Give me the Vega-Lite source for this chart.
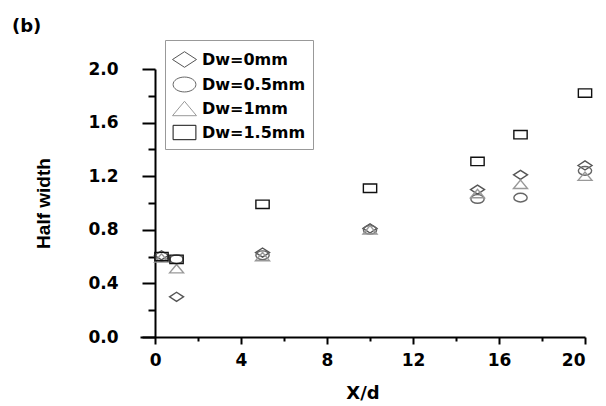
{
  "$schema": "https://vega.github.io/schema/vega-lite/v6.json",
  "width": 445,
  "height": 268,
  "autosize": {"type": "none"},
  "padding": {"left": 140, "top": 69, "right": 21, "bottom": 69},
  "background": "white",
  "title": {"text": "(b)", "anchor": "start", "frame": "group", "dx": -128, "offset": 4, "font": "DejaVu Sans", "fontWeight": "bold", "fontSize": 18, "color": "black"},
  "data": {"values": [
    {"series": "Dw=0mm", "x": 0.3, "y": 0.61},
    {"series": "Dw=0mm", "x": 1, "y": 0.3},
    {"series": "Dw=0mm", "x": 5, "y": 0.63},
    {"series": "Dw=0mm", "x": 10, "y": 0.81},
    {"series": "Dw=0mm", "x": 15, "y": 1.1},
    {"series": "Dw=0mm", "x": 17, "y": 1.21},
    {"series": "Dw=0mm", "x": 20, "y": 1.28},
    {"series": "Dw=0.5mm", "x": 0.3, "y": 0.6},
    {"series": "Dw=0.5mm", "x": 1, "y": 0.58},
    {"series": "Dw=0.5mm", "x": 5, "y": 0.61},
    {"series": "Dw=0.5mm", "x": 10, "y": 0.8},
    {"series": "Dw=0.5mm", "x": 15, "y": 1.03},
    {"series": "Dw=0.5mm", "x": 17, "y": 1.04},
    {"series": "Dw=0.5mm", "x": 20, "y": 1.24},
    {"series": "Dw=1mm", "x": 0.3, "y": 0.59},
    {"series": "Dw=1mm", "x": 1, "y": 0.51},
    {"series": "Dw=1mm", "x": 5, "y": 0.6},
    {"series": "Dw=1mm", "x": 10, "y": 0.8},
    {"series": "Dw=1mm", "x": 15, "y": 1.07},
    {"series": "Dw=1mm", "x": 17, "y": 1.14},
    {"series": "Dw=1mm", "x": 20, "y": 1.2},
    {"series": "Dw=1.5mm", "x": 0.3, "y": 0.6},
    {"series": "Dw=1.5mm", "x": 1, "y": 0.58},
    {"series": "Dw=1.5mm", "x": 5, "y": 0.99},
    {"series": "Dw=1.5mm", "x": 10, "y": 1.11},
    {"series": "Dw=1.5mm", "x": 15, "y": 1.31},
    {"series": "Dw=1.5mm", "x": 17, "y": 1.51},
    {"series": "Dw=1.5mm", "x": 20, "y": 1.82}
  ]},
  "mark": {"type": "point", "filled": false, "size": 196, "strokeWidth": 1.4, "opacity": 1},
  "encoding": {
    "x": {
      "field": "x", "type": "quantitative",
      "scale": {"domain": [-0.7, 20], "nice": false, "zero": false},
      "axis": {
        "title": "X/d",
        "values": [0, 2, 4, 6, 8, 10, 12, 14, 16, 18, 20],
        "labelExpr": "datum.value % 4 == 0 ? datum.label : ''",
        "tickSize": {"condition": {"test": "datum.value % 4 != 0", "value": 4}, "value": 7},
        "labelPadding": 8,
        "titlePadding": 16
      }
    },
    "y": {
      "field": "y", "type": "quantitative",
      "scale": {"domain": [0, 2], "nice": false},
      "axis": {
        "title": "Half width",
        "offset": -15,
        "values": [0, 0.2, 0.4, 0.6, 0.8, 1.0, 1.2, 1.4, 1.6, 1.8, 2.0],
        "format": ".1f",
        "labelExpr": "round(datum.value * 10) % 4 == 0 ? datum.label : ''",
        "tickSize": {"condition": {"test": "round(datum.value * 10) % 4 != 0", "value": 7}, "value": 13},
        "labelPadding": 24,
        "titlePadding": 34,
        "titleFont": "Liberation Sans",
        "titleFontSize": 19
      }
    },
    "shape": {
      "field": "series", "type": "nominal",
      "scale": {
        "domain": ["Dw=0mm", "Dw=0.5mm", "Dw=1mm", "Dw=1.5mm"],
        "range": [
          "M-1,0L0,-0.65L1,0L0,0.65Z",
          "M-0.95,0A0.95,0.62 0 1,0 0.95,0A0.95,0.62 0 1,0 -0.95,0Z",
          "M-1,0.6L0,-0.6L1,0.6Z",
          "M-0.95,-0.6H0.95V0.6H-0.95Z"
        ]
      },
      "legend": {
        "title": null,
        "orient": "none",
        "legendX": 25,
        "legendY": -29,
        "strokeColor": "#999",
        "padding": 7,
        "symbolSize": 576,
        "symbolStrokeWidth": 1,
        "symbolStrokeColor": "#888",
        "symbolFillColor": "transparent",
        "labelFont": "DejaVu Sans",
        "labelFontWeight": "bold",
        "labelFontSize": 16,
        "labelColor": "black",
        "labelOffset": 5,
        "rowPadding": 2
      }
    },
    "stroke": {
      "field": "series", "type": "nominal",
      "scale": {"domain": ["Dw=0mm", "Dw=0.5mm", "Dw=1mm", "Dw=1.5mm"], "range": ["#555555", "#666666", "#999999", "#111111"]},
      "legend": null
    }
  },
  "config": {
    "view": {"stroke": null},
    "axis": {
      "grid": false,
      "domainColor": "black",
      "domainWidth": 2,
      "tickColor": "black",
      "tickWidth": 2,
      "labelFont": "DejaVu Sans",
      "labelFontWeight": "bold",
      "labelFontSize": 17,
      "labelColor": "black",
      "titleFont": "DejaVu Sans",
      "titleFontWeight": "bold",
      "titleFontSize": 18,
      "titleColor": "black",
      "labelOverlap": false
    }
  }
}
